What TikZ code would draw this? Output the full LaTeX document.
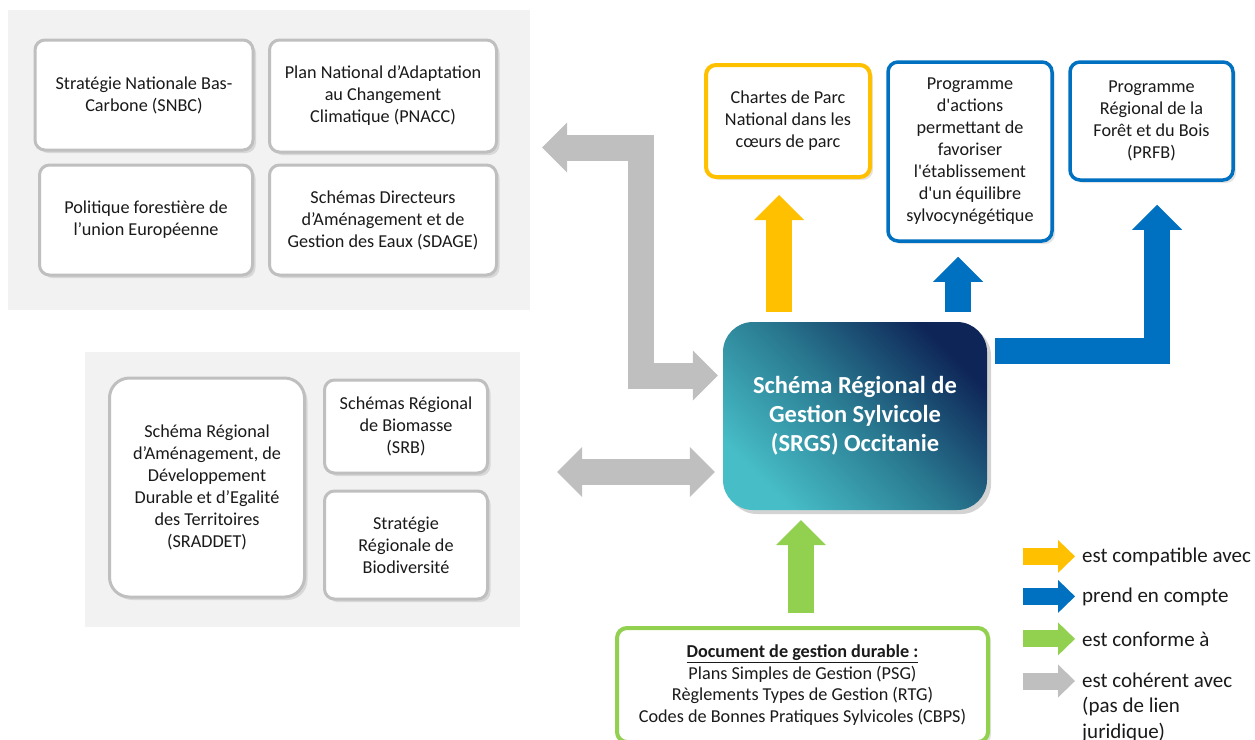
\documentclass[tikz,border=0pt]{standalone}
\usepackage{fontspec}
\setmainfont{Carlito}[Ligatures=TeXOff]
\usepackage{tikz}
\usetikzlibrary{arrows.meta,positioning,calc,shadows}
\definecolor{PanelGrey}{HTML}{F2F2F2}
\definecolor{BoxGrey}{HTML}{BFBFBF}
\definecolor{ArrGrey}{HTML}{BFBFBF}
\definecolor{Gold}{HTML}{FFC000}
\definecolor{RoyalBlue}{HTML}{0070C0}
\definecolor{Leaf}{HTML}{92D050}
\definecolor{Navy}{HTML}{0E2557}
\definecolor{Petrol}{HTML}{2A7B92}
\definecolor{Lagoon}{HTML}{47BEC7}
\definecolor{Ink}{HTML}{1A1A1A}

\begin{document}
\begin{tikzpicture}[
  x=1pt,y=-1pt,
  panel/.style={fill=PanelGrey,inner sep=0pt},
  box/.style={draw=BoxGrey,line width=3pt,rounded corners=10pt,fill=white,align=center,
    text=Ink,font=\fontsize{18.2}{22}\selectfont,inner sep=0pt,
    drop shadow={opacity=0.22,shadow xshift=3pt,shadow yshift=-3pt}},
  ybox/.style={box,draw=Gold,line width=4pt},
  bbox/.style={box,draw=RoyalBlue,line width=3.5pt},
  gbox/.style={box,draw=Leaf,line width=4pt,font=\fontsize{18.2}{21.7}\selectfont},
  srgsbox/.style={rounded corners=30pt,top color=Navy,bottom color=Lagoon,middle color=Petrol,
    shading angle=-45,text=white,font=\fontsize{24.5}{29}\selectfont\bfseries,align=center,
    drop shadow={opacity=0.35,shadow xshift=4pt,shadow yshift=-4pt}},
  bigarr/.style={line width=26pt,-{Triangle[length=25pt,width=50pt,line width=0pt]}},
  dblarr/.style={line width=26pt,{Triangle[length=25pt,width=50pt,line width=0pt]}-{Triangle[length=25pt,width=50pt,line width=0pt]}},
  legarr/.style={line width=17pt,-{Triangle[length=17pt,width=33pt,line width=0pt]}},
  legtext/.style={inner sep=0pt,text=Ink,font=\fontsize{21}{25.5}\selectfont,align=left}
]
\useasboundingbox (0,0) rectangle (1255,739);
\clip (0,0) rectangle (1255,739);

% grey panels
\node[panel,minimum width=522pt,minimum height=300pt] (paneltop) at (269,160) {};
\node[panel,minimum width=435pt,minimum height=275pt] (panelbot) at (302.5,489.5) {};

% national documents
\node[box,minimum width=218pt,minimum height=110pt] (snbc) at (144,95) {Stratégie Nationale Bas-\\Carbone (SNBC)};
\node[box,minimum width=227pt,minimum height=112pt] (pnacc) at (383,96) {Plan National d’Adaptation\\au Changement\\Climatique (PNACC)};
\node[box,minimum width=213pt,minimum height=110pt] (politique) at (146,220) {Politique forestière de\\l’union Européenne};
\node[box,minimum width=227pt,minimum height=110pt] (sdage) at (383,220) {Schémas Directeurs\\d’Aménagement et de\\Gestion des Eaux (SDAGE)};

% regional documents
\node[box,rounded corners=20pt,minimum width=195pt,minimum height=219pt] (sraddet) at (207,487.5) {Schéma Régional\\d’Aménagement, de\\Développement\\Durable et d’Egalité\\des Territoires\\(SRADDET)};
\node[box,minimum width=163pt,minimum height=93pt] (srb) at (406,426.5) {Schémas Régional\\de Biomasse\\(SRB)};
\node[box,minimum width=163pt,minimum height=108pt,below=15pt of srb] (biodiv) {Stratégie\\Régionale de\\Biodiversité};

% upper documents
\node[ybox,minimum width=164pt,minimum height=112pt] (chartes) at (788,121) {Chartes de Parc\\National dans les\\cœurs de parc};
\node[bbox,minimum width=164pt,minimum height=179pt] (actions) at (970,151.5) {Programme\\d'actions\\permettant de\\favoriser\\l'établissement\\d'un équilibre\\sylvocynégétique};
\node[bbox,minimum width=163pt,minimum height=118pt] (prfb) at (1151.5,121) {Programme\\Régional de la\\Forêt et du Bois\\(PRFB)};

% central scheme
\node[srgsbox,minimum width=264pt,minimum height=188pt] (srgs) at (855,416) {Schéma Régional de\\Gestion Sylvicole\\(SRGS) Occitanie};

% management documents
\node[gbox,minimum width=371pt,minimum height=114pt] (gdoc) at (802.5,685) {\textbf{\underline{Document de gestion durable :}}\\Plans Simples de Gestion (PSG)\\Règlements Types de Gestion (RTG)\\Codes de Bonnes Pratiques Sylvicoles (CBPS)};

% links
\coordinate (ytip) at ($(chartes.south)+(-9,16)$);
\draw[bigarr,Gold] ($(ytip |- srgs.north)+(0,-10)$) -- (ytip);
\coordinate (btip) at ($(actions.south)+(-12,14)$);
\draw[bigarr,RoyalBlue] ($(btip |- srgs.north)+(0,-10)$) -- (btip);
\coordinate (ptip) at ($(prfb.south)+(5.5,23)$);
\draw[bigarr,RoyalBlue] ($(srgs.east)+(8,-65.5)$) -| (ptip);
\coordinate (gtip) at ($(srgs.south)+(-54,10)$);
\draw[bigarr,Leaf] ($(gtip |- gdoc.north)+(0,-13)$) -- (gtip);
\coordinate (natL) at ($(paneltop.east)+(12,-12.5)$);
\coordinate (natR) at ($(srgs.west)+(-5,-40.5)$);
\draw[dblarr,ArrGrey] (natR) -| ($(natL)+(98.5,0)$) -- (natL);
\coordinate (regL) at ($(panelbot.east)+(37,-17.5)$);
\coordinate (regR) at ($(srgs.west)+(-8,56)$);
\draw[dblarr,ArrGrey] (regL) -- (regR);

% legend
\node[legtext,anchor=base west] (legcompat) at (1082,562) {est compatible avec};
\node[legtext,anchor=base west] (legcompte) at (1082,602) {prend en compte};
\node[legtext,anchor=base west] (legconf) at (1082,646) {est conforme à};
\node[legtext,anchor=north west] (legcoh) at (1082,672.5) {est cohérent avec\\(pas de lien\\juridique)};
\draw[legarr,Gold] ($(legcompat.west)+(-59,0)$) -- ($(legcompat.west)+(-7,0)$);
\draw[legarr,RoyalBlue] ($(legcompte.west)+(-59,0)$) -- ($(legcompte.west)+(-7,0)$);
\draw[legarr,Leaf] ($(legconf.west)+(-59,0)$) -- ($(legconf.west)+(-7,0)$);
\draw[legarr,ArrGrey] ($(legcoh.north west)+(-59,8.5)$) -- ($(legcoh.north west)+(-7,8.5)$);
\end{tikzpicture}
\end{document}
